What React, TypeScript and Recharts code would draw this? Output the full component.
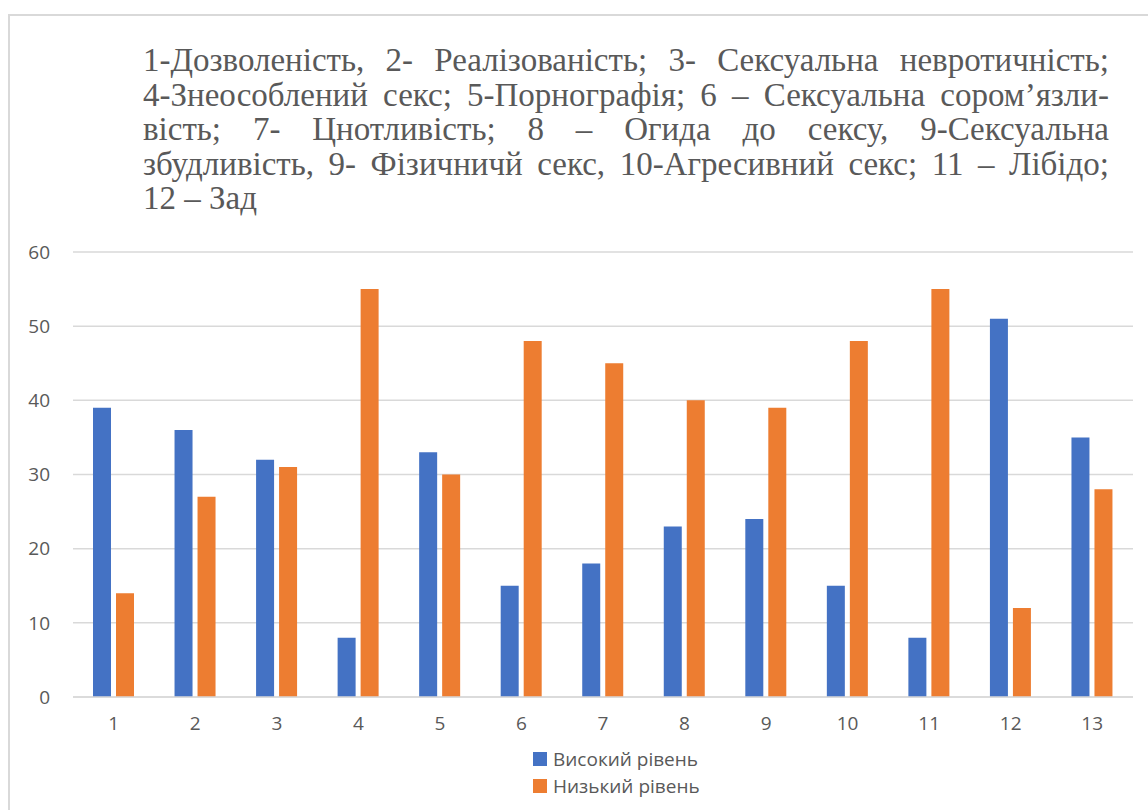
import { Bar, BarChart, CartesianGrid, XAxis, YAxis } from 'recharts'

const categories = ['1', '2', '3', '4', '5', '6', '7', '8', '9', '10', '11', '12', '13']
const highLevel = [39, 36, 32, 8, 33, 15, 18, 23, 24, 15, 8, 51, 35]
const lowLevel = [14, 27, 31, 55, 30, 48, 45, 40, 39, 48, 55, 12, 28]
const yTicks = [0, 10, 20, 30, 40, 50, 60]
const seriesNames = ['Високий рівень', 'Низький рівень']

const titleLines = [
  '1-Дозволеність, 2- Реалізованість; 3- Сексуальна невротичність;',
  '4-Знеособлений секс; 5-Порнографія; 6 – Сексуальна сором’язли-',
  'вість; 7- Цнотливість; 8 – Огида до сексу, 9-Сексуальна',
  'збудливість, 9- Фізичничй секс, 10-Агресивний секс; 11 – Лібідо;',
  '12 – Зад',
]

const data = categories.map((name, i) => ({ name, high: highLevel[i], low: lowLevel[i] }))

const BLUE = '#4472C4'
const ORANGE = '#ED7D31'
const GRID = '#d9d9d9'
const TEXT = '#595959'
const FONT = '"Open Sans", "Noto Sans", sans-serif'
const SERIF = '"Liberation Serif", "Times New Roman", serif'

export default function App() {
  return (
    <div style={{ position: 'fixed', left: 0, top: 0, width: 1148, height: 810, background: '#fff', overflow: 'hidden' }}>
      {/* chart frame */}
      <div
        style={{
          position: 'absolute',
          left: 8,
          top: 14,
          width: 1200,
          height: 900,
          borderLeft: `2px solid ${GRID}`,
          borderTop: `2px solid ${GRID}`,
        }}
      />
      {/* title */}
      <div
        style={{
          position: 'absolute',
          left: 143,
          top: 43,
          width: 966,
          fontFamily: SERIF,
          fontSize: 33,
          lineHeight: '34.5px',
          color: TEXT,
        }}
      >
        {titleLines.map((line, i) => (
          <div
            key={i}
            style={{
              whiteSpace: 'nowrap',
              textAlign: 'justify',
              textAlignLast: i === titleLines.length - 1 ? 'left' : 'justify',
            }}
          >
            {line}
          </div>
        ))}
      </div>
      <div style={{ position: 'absolute', left: 0, top: 0 }}>
        <BarChart
          width={1148}
          height={810}
          data={data}
          margin={{ top: 252, right: 15, left: 0, bottom: 83 }}
          barSize={18}
          barGap={5}
        >
          <CartesianGrid vertical={false} stroke={GRID} strokeWidth={1.5} />
          <XAxis
            dataKey="name"
            axisLine={{ stroke: GRID, strokeWidth: 1.5 }}
            tickLine={false}
            tickSize={0}
            tickMargin={20}
            height={30}
            tick={{ fill: TEXT, fontSize: 19, fontFamily: FONT }}
          />
          <YAxis
            domain={[0, 60]}
            ticks={yTicks}
            width={73}
            axisLine={false}
            tickLine={false}
            tickSize={0}
            tickMargin={23}
            tick={{ fill: TEXT, fontSize: 19, fontFamily: FONT }}
          />
          <Bar dataKey="high" name={seriesNames[0]} fill={BLUE} isAnimationActive={false} />
          <Bar dataKey="low" name={seriesNames[1]} fill={ORANGE} isAnimationActive={false} />
        </BarChart>
      </div>
      {/* legend */}
      <div style={{ position: 'absolute', left: 533, top: 745, fontFamily: FONT, fontSize: 19, color: TEXT }}>
        {seriesNames.map((n, i) => (
          <div key={n} style={{ display: 'flex', alignItems: 'center', height: 27 }}>
            <span style={{ display: 'inline-block', width: 14, height: 14, background: i === 0 ? BLUE : ORANGE, marginRight: 6 }} />
            <span>{n}</span>
          </div>
        ))}
      </div>
    </div>
  )
}
